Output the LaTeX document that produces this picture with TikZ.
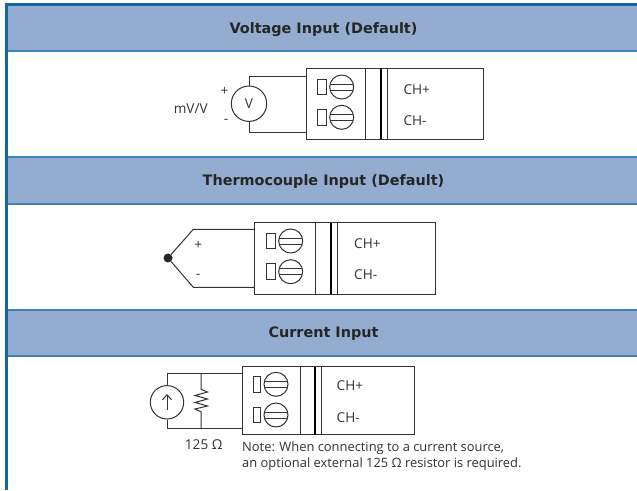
\documentclass[tikz,border=0pt]{standalone}
\usepackage{fontspec}
\setmainfont{Open Sans}
\newfontfamily\titlefont{DejaVu Sans}
\usetikzlibrary{arrows.meta}
\definecolor{bandfill}{HTML}{93ACD0}
\definecolor{bandline}{HTML}{3F82B8}
\definecolor{framecol}{HTML}{1168A6}
\definecolor{wirecol}{HTML}{333333}
\definecolor{textcol}{HTML}{333333}
\tikzset{
  wire/.style={line width=1pt,wirecol},
  band/.style={fill=bandfill,draw=none},
  bandedge/.style={line width=2pt,bandline},
  title/.style={font=\titlefont\fontsize{14.4}{16}\selectfont\bfseries,text=black!85},
  label/.style={font=\fontsize{13.6}{15}\selectfont,text=textcol,inner sep=0pt},
  notetext/.style={font=\fontsize{12.9}{16}\selectfont,text=textcol,inner sep=0pt},
}
\begin{document}
\begin{tikzpicture}[x=1pt,y=-1pt]
\useasboundingbox (0,0) rectangle (637,490);
\fill[white] (0,0) rectangle (637,490);
% bands
\fill[band] (8,5) rectangle (637,51);
\fill[band] (8,157) rectangle (637,204);
\fill[band] (8,310) rectangle (637,355.5);
\draw[bandedge] (8,51) -- (637,51);
\draw[bandedge] (8,157) -- (637,157);
\draw[bandedge] (8,204) -- (637,204);
\draw[bandedge] (8,310) -- (637,310);
\draw[bandedge] (8,355.5) -- (637,355.5);
\draw[line width=3pt,framecol] (5,4.5) -- (637,4.5);
\draw[line width=3pt,framecol] (6.5,3) -- (6.5,490);
\node[title] (voltage) at (323.5,30) {Voltage Input (Default)};
\node[title] (thermo) at (323.5,182) {Thermocouple Input (Default)};
\node[title] (current) at (323.5,334) {Current Input};
% terminal blocks
\foreach \n/\l/\r/\t/\b/\u/\v/\w/\p/\q/\c/\y/\z/\s/\h in {
  A/306.7/483/68.3/139/365.7/380.7/387.3/317.7/326/341.7/87/117.3/403.3/89.3,
  B/254.7/435/222.7/294/315.3/330.7/337.7/266.3/275.3/290.7/241/271.7/354/243.3,
  C/242/414.7/366.7/434.7/300.3/314.7/321.7/253.7/260.7/276/384.3/415/336.5/386}
{
  \draw[wire] (\l,\t) rectangle (\r,\b);
  \coordinate (\n west) at (\l,\t);
  \draw[wire] (\u,\t) -- (\u,\b);
  \draw[line width=2pt,black] (\v,\t) -- (\v,\b);
  \draw[wire] (\w,\t) -- (\w,\b);
  \foreach \m in {\y,\z} {
    \draw[wire] (\p,\m-7.8) rectangle (\q,\m+7.8);
    \draw[wire] (\c,\m) circle (12);
    \draw[wire] (\c-11.5,\m-3) -- (\c+11.5,\m-3);
    \draw[wire] (\c-11.5,\m+3) -- (\c+11.5,\m+3);
  }
  \node[label,anchor=west] (\n plus) at (\s,\h) {CH+};
  \node[label,anchor=west] (\n minus) at (\s,\h+31.7) {CH-};
}
% voltage source
\node[draw=wirecol,line width=1pt,circle,minimum size=35.4pt,inner sep=0pt,label] (vsrc) at (249,103.7) {V};
\coordinate (vtop) at (306.7,76);
\coordinate (vbot) at (306.7,132.3);
\draw[wire] (vsrc.north) |- (vtop);
\draw[wire] (vsrc.south) |- (vbot);
\node[label] (vplus) at (224.5,91) {+};
\node[label] (vminus) at (226,121.7) {-};
\node[label] (mv) at (190.7,109) {mV/V};
% thermocouple
\node[circle,fill=black!85,minimum size=9pt,inner sep=0pt] (junction) at (168,258) {};
\coordinate (ttop) at (193.3,229.3);
\coordinate (tbot) at (193.3,287.3);
\coordinate (tboxa) at (254.7,229.3);
\coordinate (tboxb) at (254.7,287.3);
\draw[wire] (junction) -- (ttop) -- (tboxa);
\draw[wire] (junction) -- (tbot) -- (tboxb);
\node[label] (tplus) at (198.3,245) {+};
\node[label] (tminus) at (198,276) {-};
% current source
\node[draw=wirecol,line width=1pt,circle,minimum size=33.4pt,inner sep=0pt] (isrc) at (167,402.3) {};
\coordinate (itop) at (242,373.7);
\coordinate (ibot) at (242,428.7);
\coordinate (rtop) at (201,373.7);
\coordinate (rbot) at (201,428.7);
\draw[wire] (isrc.north) |- (itop);
\draw[wire] (isrc.south) |- (ibot);
\draw[wire,-{Straight Barb[length=5pt,width=9pt]}] (167,410) -- (167,394);
\draw[wire,line join=miter] (rtop) -- (201,389.3) -- (207.5,392) -- (195,395.5) -- (207.5,399) -- (195,402.5) -- (207.5,406) -- (195,409) -- (201,411.7) -- (rbot);
\node[label] (rval) at (203.7,444.7) {125 Ω};
\node[notetext,anchor=north west,align=left] (note) at (242,441.7) {Note: When connecting to a current source,\\an optional external 125 Ω resistor is required.};
\end{tikzpicture}
\end{document}
